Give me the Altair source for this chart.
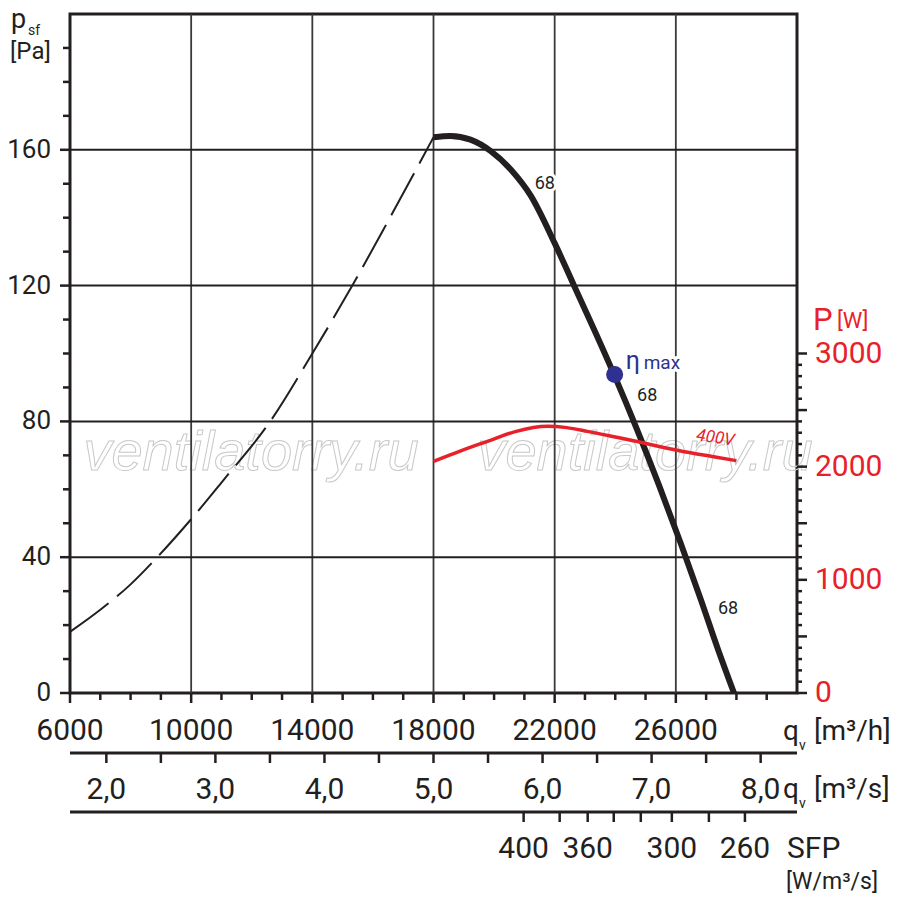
import altair as alt
import pandas as pd

FONT = "Roboto"
INK = "#231f20"
RED = "#e8202a"
BLUE = "#2e3192"
W, H = 727, 679

# fan curve, pressure p_sf [Pa] against flow q_v [m3/h]
fan_q = [18000, 18560, 19220, 19880, 20550, 21210, 22000, 22630, 23290, 23980,
         24710, 25440, 26170, 26830, 27390, 27920]
fan_p = [163.7, 164.1, 163.0, 159.7, 154.2, 146.5, 132.5, 120.2, 107.3, 93.4,
         77.8, 61.3, 43.9, 27.4, 12.9, 0.0]

# unstable part of the curve (dashed)
stall_q = [6000, 7000, 8000, 8880, 10000, 11000, 12610, 14000, 15320, 16500, 18000]
stall_p = [18.0, 24.5, 32.0, 40.0, 51.2, 62.0, 80.0, 100.0, 120.0, 139.0, 163.7]

# input power P [W], 400V
power_q = [18000, 18900, 19780, 20700, 21760, 22400, 23080, 24000, 24840, 25600,
           26390, 27200, 28000]
power_w = [2047, 2140, 2224, 2310, 2357, 2345, 2312, 2262, 2215, 2170, 2127, 2090, 2053]

# efficiency marks on the curve
eff_q = [20880, 24260, 26930]
eff_p = [149.9, 87.4, 24.7]
eff_text = ["68", "68", "68"]

etamax_q = [23980]
etamax_p = [93.8]

volt_q = [27220]
volt_w = [2087]
volt_text = ["400V"]

# axes
q_major = [6000, 10000, 14000, 18000, 22000, 26000]
q_minor = [q for q in range(7000, 30000, 1000) if (q - 6000) % 4000]
p_major = [0, 40, 80, 120, 160]
p_minor = [p for p in range(10, 200, 10) if p % 40]
w_major = list(range(0, 3001, 500))
w_minor = [w for w in range(100, 3000, 100) if w % 500]
w_labels = [0, 1000, 2000, 3000]

qs_ticks = [2.0, 2.5, 3.0, 3.5, 4.0, 4.5, 5.0, 5.5, 6.0, 6.5, 7.0, 7.5, 8.0]
qs_values = [2, 3, 4, 5, 6, 7, 8]
qs_labels = ["2,0", "3,0", "4,0", "5,0", "6,0", "7,0", "8,0"]

sfp_ticks_q = [20975, 22165, 23090, 23950, 24843, 25868, 27091, 28281]
sfp_values = [400, 380, 360, 340, 320, 300, 280, 260]
sfp_shown = [400, 360, 300, 260]

xsc = alt.Scale(domain=[6000, 30000], nice=False, zero=False)
ysc = alt.Scale(domain=[0, 200], nice=False)
wsc = alt.Scale(domain=[0, 6000], nice=False)


def X(field):
    return alt.X(field, scale=xsc, axis=None)


def Y(field):
    return alt.Y(field, scale=ysc, axis=None)


def YW(field):
    return alt.Y(field, scale=wsc, axis=None)


def txt(s, x, y, size, color=INK, align="left", font=FONT, **kw):
    return alt.Chart(pd.DataFrame({"s": [s]})).mark_text(
        align=align, baseline="alphabetic", font=font, fontSize=size, color=color, **kw
    ).encode(x=alt.value(x), y=alt.value(y), text="s:N")


def ticks_x(values, y0, y1):
    return alt.Chart(pd.DataFrame({"q": values})).mark_rule(strokeWidth=2.5, color=INK).encode(
        x=X("q:Q"), y=alt.value(y0), y2=alt.value(y1)
    )


# watermark
back = alt.layer(
    txt("ventilatorry.ru", 181, 456, 56, align="center", font="Liberation Sans",
        fontStyle="italic", stroke="#c8c8c8", strokeWidth=1, fillOpacity=0),
    txt("ventilatorry.ru", 575, 456, 56, align="center", font="Liberation Sans",
        fontStyle="italic", stroke="#c8c8c8", strokeWidth=1, fillOpacity=0),
)

# grid
grid_x = alt.Chart(pd.DataFrame({"q": q_major[1:]})).mark_rule(strokeWidth=1.8, color="#3a3a3a").encode(
    x=X("q:Q")
)
grid_y = alt.Chart(pd.DataFrame({"p": p_major[1:]})).mark_rule(strokeWidth=2, color=INK).encode(
    y=Y("p:Q")
)

# flow axis m3/h
x_major_ticks = ticks_x(q_major, H, H + 10)
x_minor_ticks = ticks_x(q_minor, H, H + 7)
x_labels = alt.Chart(pd.DataFrame({"q": q_major})).mark_text(
    align="center", baseline="alphabetic", font=FONT, fontSize=30, color=INK
).encode(x=X("q:Q"), y=alt.value(H + 47), text=alt.Text("q:Q", format="d"))

# pressure axis
y_major_ticks = alt.Chart(pd.DataFrame({"p": p_major})).mark_rule(strokeWidth=2.5, color=INK).encode(
    y=Y("p:Q"), x=alt.value(-10), x2=alt.value(0)
)
y_minor_ticks = alt.Chart(pd.DataFrame({"p": p_minor})).mark_rule(strokeWidth=2.5, color=INK).encode(
    y=Y("p:Q"), x=alt.value(-7), x2=alt.value(0)
)
y_labels = alt.Chart(pd.DataFrame({"p": p_major})).mark_text(
    align="right", baseline="middle", font=FONT, fontSize=26, color=INK
).encode(y=Y("p:Q"), x=alt.value(-19), text=alt.Text("p:Q", format="d"))

# second flow axis, m3/s
span = pd.DataFrame({"q0": [6000], "q1": [30000]})
qs_line = alt.Chart(span).mark_rule(strokeWidth=3, color=INK).encode(
    x=X("q0:Q"), x2="q1:Q", y=alt.value(H + 60)
)
qs_tick = ticks_x([v * 3600 for v in qs_ticks], H + 60, H + 70)
qs_text = alt.Chart(pd.DataFrame({"q": [v * 3600 for v in qs_values], "s": qs_labels})).mark_text(
    align="center", baseline="alphabetic", font=FONT, fontSize=30, color=INK
).encode(x=X("q:Q"), y=alt.value(H + 106), text="s:N")

# SFP axis
sfp_df = pd.DataFrame({"q": sfp_ticks_q, "sfp": sfp_values})
sfp_line = alt.Chart(span).mark_rule(strokeWidth=3, color=INK).encode(
    x=X("q0:Q"), x2="q1:Q", y=alt.value(H + 119)
)
sfp_tick = ticks_x(sfp_ticks_q, H + 119, H + 129)
sfp_text = alt.Chart(sfp_df[sfp_df["sfp"].isin(sfp_shown)]).mark_text(
    align="center", baseline="alphabetic", font=FONT, fontSize=30, color=INK
).encode(x=X("q:Q"), y=alt.value(H + 165), text="sfp:N")

titles = alt.layer(
    txt("p", -59, 14, 27),
    txt("sf", -42, 21, 14),
    txt("[Pa]", -60, 45, 24),
    txt("q", 713, 726, 28),
    txt("v", 729, 736, 14),
    txt("[m³/h]", 744, 726, 28),
    txt("q", 713, 784, 28),
    txt("v", 729, 794, 14),
    txt("[m³/s]", 744, 784, 28),
    txt("SFP", 717, 844, 30),
    txt("[W/m³/s]", 716, 875, 23),
)

stall = alt.Chart(pd.DataFrame({"q": stall_q, "p": stall_p})).mark_line(
    interpolate="monotone", strokeWidth=2, strokeDash=[48, 11], color=INK
).encode(x=X("q:Q"), y=Y("p:Q"))

fan = alt.Chart(pd.DataFrame({"q": fan_q, "p": fan_p})).mark_line(
    interpolate="monotone", strokeWidth=6, color=INK, strokeCap="butt"
).encode(x=X("q:Q"), y=Y("p:Q"))

eta_df = pd.DataFrame({"q": etamax_q, "p": etamax_p})
eta_pt = alt.Chart(eta_df).mark_circle(size=290, color=BLUE, opacity=1).encode(
    x=X("q:Q"), y=Y("p:Q")
)


def eta_text(s, dx, size, **kw):
    return alt.Chart(eta_df.assign(s=s)).mark_text(
        align="left", baseline="alphabetic", font=FONT, fontSize=size, dx=dx, dy=-6, **kw
    ).encode(x=X("q:Q"), y=Y("p:Q"), text="s:N")


eta_lbl = alt.layer(
    eta_text("η", 11, 25, color="white", stroke="white", strokeWidth=6),
    eta_text("max", 29, 19, color="white", stroke="white", strokeWidth=6),
    eta_text("η", 11, 25, color=BLUE),
    eta_text("max", 29, 19, color=BLUE),
)

eff_df = pd.DataFrame({"q": eff_q, "p": eff_p, "s": eff_text})


def eff_layer(**kw):
    return alt.Chart(eff_df).mark_text(
        align="center", baseline="middle", font=FONT, fontSize=18, dx=24, **kw
    ).encode(x=X("q:Q"), y=Y("p:Q"), text="s:N")


eff_lbl = alt.layer(eff_layer(color="white", stroke="white", strokeWidth=6), eff_layer(color=INK))

main = alt.layer(grid_x, grid_y, x_major_ticks, x_minor_ticks, x_labels, y_major_ticks,
                 y_minor_ticks, y_labels, qs_line, qs_tick, qs_text, sfp_line, sfp_tick,
                 sfp_text, titles, stall, fan, eta_pt, eff_lbl, eta_lbl)

# power curve on its own scale, right axis
power_line = alt.Chart(pd.DataFrame({"q": power_q, "w": power_w})).mark_line(
    interpolate="monotone", strokeWidth=3.5, color=RED
).encode(x=X("q:Q"), y=YW("w:Q"))
w_major_ticks = alt.Chart(pd.DataFrame({"w": w_major})).mark_rule(strokeWidth=2.5, color=INK).encode(
    y=YW("w:Q"), x=alt.value(W), x2=alt.value(W + 10)
)
w_minor_ticks = alt.Chart(pd.DataFrame({"w": w_minor})).mark_rule(strokeWidth=2.5, color=INK).encode(
    y=YW("w:Q"), x=alt.value(W), x2=alt.value(W + 5)
)
w_text = alt.Chart(pd.DataFrame({"w": w_labels})).mark_text(
    align="left", baseline="middle", font=FONT, fontSize=30, color=RED
).encode(y=YW("w:Q"), x=alt.value(W + 18), text=alt.Text("w:Q", format="d"))
volt = alt.Chart(pd.DataFrame({"q": volt_q, "w": volt_w, "s": volt_text})).mark_text(
    align="center", baseline="middle", font=FONT, fontSize=17, fontStyle="italic",
    color=RED, angle=8, dy=-19
).encode(x=X("q:Q"), y=YW("w:Q"), text="s:N")

power = alt.layer(power_line, w_major_ticks, w_minor_ticks, w_text, volt,
                  txt("P", 743, 316, 31, color=RED), txt("[W]", 767, 314, 22, color=RED))

chart = (
    alt.layer(back, main, power)
    .resolve_scale(y="independent")
    .properties(
        width=W, height=H,
        autosize=alt.AutoSizeParams(type="none"),
        padding={"left": 62, "top": 6, "right": 95, "bottom": 202},
    )
    .configure_view(stroke=INK, strokeWidth=3)
)

chart.save("out.html", embed_options={"renderer": "svg", "actions": False})
